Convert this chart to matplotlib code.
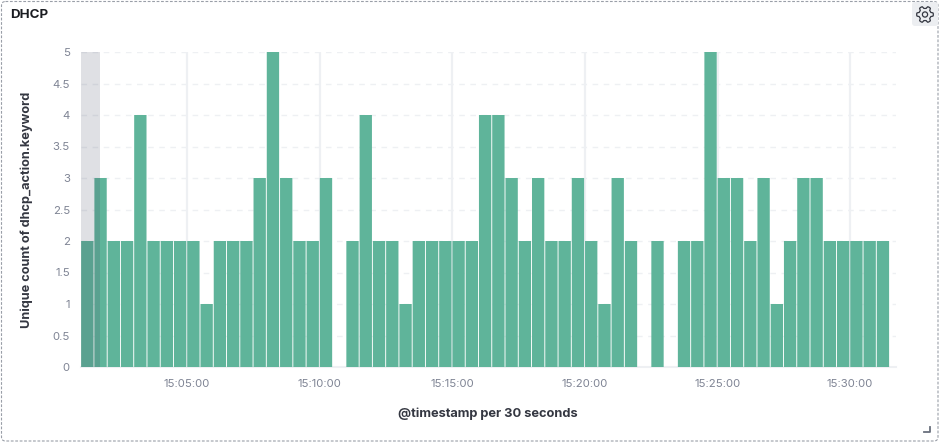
import pandas as pd
import numpy as np
import matplotlib
matplotlib.use('Agg')
import matplotlib.pyplot as plt
import matplotlib.dates as mdates
from matplotlib.patches import FancyBboxPatch, Circle, Polygon
from matplotlib.lines import Line2D

plt.rcParams['font.family'] = ['Inter', 'DejaVu Sans']

W, H = 940, 443

start_time = '2023-01-01 15:01:00'
# unique count per 30 s bucket, 0 = empty bucket
counts = [2, 3, 2, 2, 4, 2, 2, 2, 2, 1,
          2, 2, 2, 3, 5, 3, 2, 2, 3, 0,
          2, 4, 2, 2, 1, 2, 2, 2, 2, 2,
          4, 4, 3, 2, 3, 2, 2, 3, 2, 1,
          3, 2, 0, 2, 0, 2, 2, 5, 3, 3,
          2, 3, 1, 2, 3, 3, 2, 2, 2, 2,
          2]
y_ticks = [0, 0.5, 1, 1.5, 2, 2.5, 3, 3.5, 4, 4.5, 5]
y_labels = ['0', '0.5', '1', '1.5', '2', '2.5', '3', '3.5', '4', '4.5', '5']
x_ticks = ['15:05:00', '15:10:00', '15:15:00', '15:20:00', '15:25:00', '15:30:00']

title = 'DHCP'
x_title = '@timestamp per 30 seconds'
y_title = 'Unique count of dhcp_action.keyword'

times = pd.date_range(start_time, periods=len(counts), freq='30s')
bucket = 30 / 86400
x = mdates.date2num(times)

fig = plt.figure(figsize=(W / 100, H / 100), dpi=100)
ax = fig.add_axes([81 / W, 1 - 367 / H, (896 - 81) / W, (367 - 52) / H])

# grid first, bars on top
for v in y_ticks[1:]:
    ax.axhline(v, color='#eef0f3', lw=1, dashes=(4, 4), zorder=1)
ax.axhline(0, color='#eef0f3', lw=1.5, zorder=1, clip_on=False)
tick_pos = mdates.date2num(pd.to_datetime(['2023-01-01 ' + t for t in x_ticks]))
for t in tick_pos:
    ax.axvline(t, color='#eef0f3', lw=1.6, zorder=1)

keep = np.array(counts) > 0
bars = ax.bar(x[keep] + bucket * 0.01, np.array(counts)[keep], width=bucket * 0.93, align='edge',
              color='#5fb49a', edgecolor='none', zorder=2)
for b in bars:
    b.set_snap(False)

# selection band at the left edge
ax.axvspan(x[0], x[0] + bucket * 1.45, color='#434960', alpha=0.17, lw=0, zorder=3)

ax.set_xlim(x[0], x[0] + bucket * 61.46)
ax.set_ylim(0, 5)
for s in ax.spines.values():
    s.set_visible(False)
ax.set_xticks(tick_pos)
ax.set_xticklabels(x_ticks)
ax.set_yticks(y_ticks)
ax.set_yticklabels(y_labels)
ax.tick_params(axis='both', length=0, labelsize=8.2, labelcolor='#7f8494')
ax.tick_params(axis='x', pad=8.3)
ax.tick_params(axis='y', pad=8)

fig.text(488 / W, 1 - 414 / H, x_title, ha='center', va='center',
         fontsize=9.25, fontweight='bold', color='#343741')
fig.text(27 / W, 1 - 210 / H, y_title, ha='center', va='center', rotation=90,
         fontsize=9.2, fontweight='bold', color='#343741')
fig.text(10 / W, 1 - 15 / H, title, ha='left', va='center',
         fontsize=9.6, fontweight='bold', color='#1a1c21')

# panel frame
bg = fig.add_axes([0, 0, 1, 1], zorder=-1)
bg.set_xlim(0, W)
bg.set_ylim(H, 0)
bg.axis('off')
bg.add_patch(FancyBboxPatch((1.5, 1.5), W - 3.5, H - 3.5, boxstyle='round,pad=0,rounding_size=4',
                            fc='white', ec='#9a9fa8', lw=0.8, ls=(0, (2.5, 1.5))))
bg.add_patch(FancyBboxPatch((912, 2), 26, 24, boxstyle='round,pad=0,rounding_size=3',
                            fc='#eceef1', ec='none'))

# gear icon, outline only
ang = np.linspace(0, 2 * np.pi, 97)
rad = 7.2 + 1.1 * np.clip(2.2 * np.cos(6 * ang), -1, 1)
bg.add_patch(Polygon(np.c_[925 + rad * np.cos(ang), 14.5 + rad * np.sin(ang)], closed=True,
                     fc='none', ec='#343741', lw=0.9))
bg.add_patch(Circle((925, 14.5), 2.6, fc='none', ec='#343741', lw=0.9))
bg.add_line(Line2D([924, 929.5, 929.5], [431.5, 431.5, 427], color='#69707d', lw=1.3))

fig.savefig('out.png', dpi=100)
